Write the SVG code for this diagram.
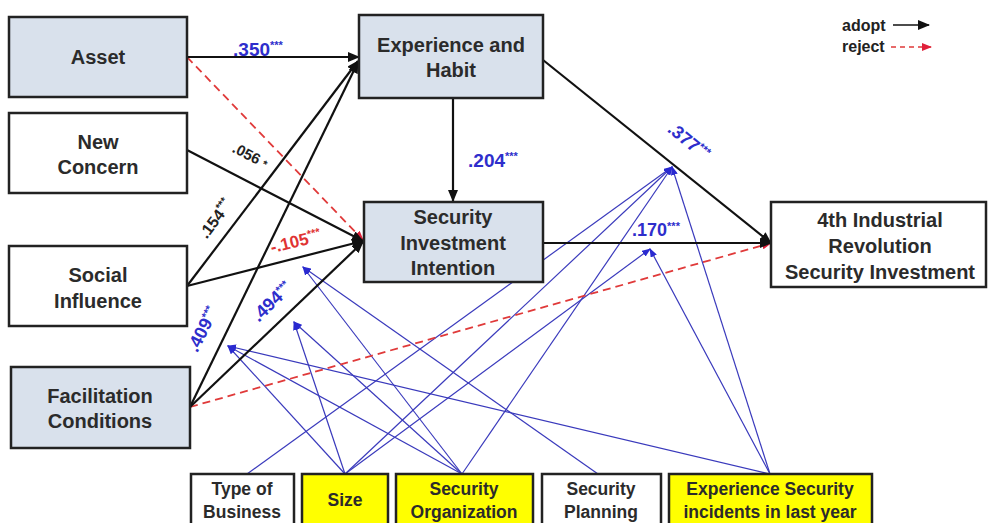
<svg xmlns="http://www.w3.org/2000/svg" width="988" height="523" viewBox="0 0 988 523">
  <style>
    .box { stroke: #222; stroke-width: 2.5; }
    .blue { fill: #d9e1ec; }
    .white { fill: #ffffff; }
    .yellow { fill: #ffff00; }
    .lbl { font-family: "Liberation Sans", Arial, sans-serif; font-weight: bold; fill: #2b2b2b; text-anchor: middle; }
    .main { font-size: 20px; }
    .small { font-size: 17.5px; }
    .adopt { stroke: #111; stroke-width: 2.2; fill: none; }
    .reject { stroke: #e03a3a; stroke-width: 1.8; fill: none; stroke-dasharray: 8 5; }
    .mod { stroke: #3a3abc; stroke-width: 1.2; fill: none; }
    .coef { font-family: "Liberation Sans", Arial, sans-serif; font-weight: bold; text-anchor: middle; }
    .cblue { fill: #2e2ecc; }
    .cred { fill: #e03333; }
    .cblack { fill: #222; }
    .sup { font-size: 11px; }
    .legend { font-family: "Liberation Sans", Arial, sans-serif; font-weight: bold; font-size: 16px; fill: #222; }
  </style>
  <defs>
    <marker id="arrowBlack" markerUnits="userSpaceOnUse" markerWidth="12" markerHeight="10" refX="11" refY="5" orient="auto">
      <path d="M0,0 L12,5 L0,10 z" fill="#111"/>
    </marker>
    <marker id="arrowRed" markerUnits="userSpaceOnUse" markerWidth="10" markerHeight="8" refX="9" refY="4" orient="auto">
      <path d="M0,0 L10,4 L0,8 z" fill="#e0203a"/>
    </marker>
    <marker id="arrowBlue" markerUnits="userSpaceOnUse" markerWidth="9" markerHeight="7" refX="8" refY="3.5" orient="auto">
      <path d="M0,0 L9,3.5 L0,7 z" fill="#2a2ad0"/>
    </marker>
  </defs>

  <rect width="988" height="523" fill="#ffffff"/>

  <!-- connectors -->
  <g id="connectors">
    <!-- moderating effects -->
    <g id="moderators">
      <line class="mod" x1="247" y1="474" x2="672" y2="167" marker-end="url(#arrowBlue)"/>
      <line class="mod" x1="345" y1="474" x2="228" y2="346" marker-end="url(#arrowBlue)"/>
      <line class="mod" x1="345" y1="474" x2="294" y2="322" marker-end="url(#arrowBlue)"/>
      <line class="mod" x1="345" y1="474" x2="672" y2="167" marker-end="url(#arrowBlue)"/>
      <line class="mod" x1="345" y1="474" x2="650" y2="249" marker-end="url(#arrowBlue)"/>
      <line class="mod" x1="462" y1="474" x2="228" y2="346" marker-end="url(#arrowBlue)"/>
      <line class="mod" x1="462" y1="474" x2="303" y2="267" marker-end="url(#arrowBlue)"/>
      <line class="mod" x1="462" y1="474" x2="294" y2="322" marker-end="url(#arrowBlue)"/>
      <line class="mod" x1="462" y1="474" x2="672" y2="167" marker-end="url(#arrowBlue)"/>
      <line class="mod" x1="598" y1="474" x2="303" y2="267" marker-end="url(#arrowBlue)"/>
      <line class="mod" x1="770" y1="474" x2="228" y2="346" marker-end="url(#arrowBlue)"/>
      <line class="mod" x1="770" y1="474" x2="672" y2="167" marker-end="url(#arrowBlue)"/>
      <line class="mod" x1="770" y1="474" x2="650" y2="249" marker-end="url(#arrowBlue)"/>
    </g>
    <!-- rejected paths -->
    <line class="reject" x1="187" y1="57" x2="363" y2="240" marker-end="url(#arrowRed)"/>
    <line class="reject" x1="190" y1="407" x2="771" y2="243" marker-end="url(#arrowRed)"/>
    <!-- adopted paths -->
    <line class="adopt" x1="187" y1="57" x2="359" y2="57" marker-end="url(#arrowBlack)"/>
    <line class="adopt" x1="187" y1="150" x2="363" y2="241" marker-end="url(#arrowBlack)"/>
    <line class="adopt" x1="187" y1="286" x2="358" y2="61" marker-end="url(#arrowBlack)"/>
    <line class="adopt" x1="187" y1="286" x2="363" y2="241" marker-end="url(#arrowBlack)"/>
    <line class="adopt" x1="190" y1="407" x2="358" y2="62" marker-end="url(#arrowBlack)"/>
    <line class="adopt" x1="190" y1="407" x2="363" y2="242" marker-end="url(#arrowBlack)"/>
    <line class="adopt" x1="453" y1="98" x2="453" y2="201" marker-end="url(#arrowBlack)"/>
    <line class="adopt" x1="543" y1="60" x2="771" y2="243" marker-end="url(#arrowBlack)"/>
    <line class="adopt" x1="543" y1="243" x2="771" y2="243" marker-end="url(#arrowBlack)"/>
  </g>

  <!-- path coefficients -->
  <g id="coefficients">
    <text class="coef cblue" x="258" y="56" font-size="19">.350<tspan class="sup" dy="-7">***</tspan></text>
    <text class="coef cblack" transform="translate(248,160) rotate(27)" font-size="15">.056 <tspan class="sup">*</tspan></text>
    <text class="coef cblack" transform="translate(220,222) rotate(-53)" font-size="16">.154<tspan class="sup" dy="-6">***</tspan></text>
    <text class="coef cred" transform="translate(297,247) rotate(-14)" font-size="17">-.105<tspan class="sup" dy="-6">***</tspan></text>
    <text class="coef cblue" transform="translate(208,332) rotate(-63)" font-size="18">.409<tspan class="sup" dy="-6">***</tspan></text>
    <text class="coef cblue" transform="translate(276,306) rotate(-44)" font-size="18">.494<tspan class="sup" dy="-6">***</tspan></text>
    <text class="coef cblue" x="493" y="167" font-size="19">.204<tspan class="sup" dy="-7">***</tspan></text>
    <text class="coef cblue" transform="translate(685,146) rotate(39)" font-size="18">.377<tspan class="sup" dy="-6">***</tspan></text>
    <text class="coef cblue" x="656" y="236" font-size="18">.170<tspan class="sup" dy="-6">***</tspan></text>
  </g>

  <!-- legend -->
  <g id="legend">
    <text class="legend" x="842" y="31">adopt</text>
    <line x1="893" y1="25" x2="929" y2="25" stroke="#111" stroke-width="1.6" marker-end="url(#arrowBlack)"/>
    <text class="legend" x="842" y="52">reject</text>
    <line x1="891" y1="47" x2="931" y2="47" stroke="#e03a3a" stroke-width="1.4" stroke-dasharray="5 4" marker-end="url(#arrowRed)"/>
  </g>

  <!-- constructs -->
  <g id="asset">
    <rect class="box blue" x="9" y="17" width="178" height="80"/>
    <text class="lbl main" x="98" y="64">Asset</text>
  </g>
  <g id="new-concern">
    <rect class="box white" x="9" y="113" width="178" height="80"/>
    <text class="lbl main" x="98" y="149">New</text>
    <text class="lbl main" x="98" y="174">Concern</text>
  </g>
  <g id="social-influence">
    <rect class="box white" x="9" y="246" width="178" height="80"/>
    <text class="lbl main" x="98" y="282">Social</text>
    <text class="lbl main" x="98" y="308">Influence</text>
  </g>
  <g id="facilitation-conditions">
    <rect class="box blue" x="11" y="367" width="179" height="81"/>
    <text class="lbl main" x="100" y="403">Facilitation</text>
    <text class="lbl main" x="100" y="428">Conditions</text>
  </g>
  <g id="experience-habit">
    <rect class="box blue" x="359" y="15" width="184" height="83"/>
    <text class="lbl main" x="451" y="52">Experience and</text>
    <text class="lbl main" x="451" y="77">Habit</text>
  </g>
  <g id="security-investment-intention">
    <rect class="box blue" x="364" y="202" width="179" height="80"/>
    <text class="lbl main" x="453" y="224">Security</text>
    <text class="lbl main" x="453" y="250">Investment</text>
    <text class="lbl main" x="453" y="275">Intention</text>
  </g>
  <g id="security-investment">
    <rect class="box white" x="771" y="202" width="215" height="85"/>
    <text class="lbl main" x="880" y="227">4th Industrial</text>
    <text class="lbl main" x="880" y="253">Revolution</text>
    <text class="lbl main" x="880" y="279">Security Investment</text>
  </g>

  <!-- moderating variables -->
  <g id="type-of-business">
    <rect class="box white" x="191" y="474" width="103" height="60"/>
    <text class="lbl small" x="242" y="495">Type of</text>
    <text class="lbl small" x="242" y="518">Business</text>
  </g>
  <g id="size">
    <rect class="box yellow" x="302" y="474" width="86" height="60"/>
    <text class="lbl small" x="345" y="506">Size</text>
  </g>
  <g id="security-organization">
    <rect class="box yellow" x="396" y="474" width="137" height="60"/>
    <text class="lbl small" x="464" y="495">Security</text>
    <text class="lbl small" x="464" y="518">Organization</text>
  </g>
  <g id="security-planning">
    <rect class="box white" x="542" y="474" width="119" height="60"/>
    <text class="lbl small" x="601" y="495">Security</text>
    <text class="lbl small" x="601" y="518">Planning</text>
  </g>
  <g id="security-incidents">
    <rect class="box yellow" x="669" y="474" width="203" height="60"/>
    <text class="lbl small" x="770" y="495">Experience Security</text>
    <text class="lbl small" x="770" y="518">incidents in last year</text>
  </g>
</svg>
